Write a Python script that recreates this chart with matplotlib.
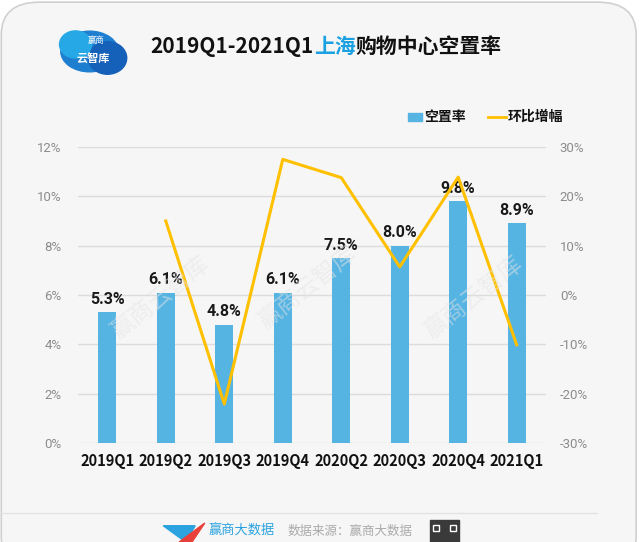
import matplotlib
matplotlib.use("Agg")
import matplotlib.pyplot as plt
from matplotlib.patches import FancyBboxPatch, Rectangle, Polygon, Ellipse
from matplotlib.ticker import FuncFormatter

plt.rcParams['font.family'] = ['Noto Sans CJK SC', 'DejaVu Sans']

quarters = ["2019Q1", "2019Q2", "2019Q3", "2019Q4", "2020Q2", "2020Q3", "2020Q4", "2021Q1"]
vacancy = [5.3, 6.1, 4.8, 6.1, 7.5, 8.0, 9.8, 8.9]          # %
qoq_change = [None, 15.0, -22.1, 27.5, 23.8, 5.7, 23.9, -10.1]  # %
left_ticks = [0, 2, 4, 6, 8, 10, 12]
right_ticks = [-30, -20, -10, 0, 10, 20, 30]

bar_color = "#56B4E3"
line_color = "#FFC000"
bg = "#F6F6F6"
num_font = ['Roboto', 'DejaVu Sans']

fig = plt.figure(figsize=(6.4, 5.42), dpi=100)
fig.patch.set_facecolor("white")
fig.patches.append(FancyBboxPatch((0.002, -0.05), 0.992, 1.046, boxstyle="round,pad=0,rounding_size=0.06",
                                  transform=fig.transFigure, facecolor=bg, edgecolor="#D0D0D0", lw=1.2,
                                  zorder=-10))

ax = fig.add_axes([0.122, 0.1827, 0.731, 0.546])
ax.set_facecolor(bg)
x = list(range(len(quarters)))
ax.bar(x, vacancy, width=0.31, color=bar_color, zorder=3)
ax.set_ylim(0, 12)
ax.set_xlim(-0.5, len(quarters) - 0.5)
ax.set_yticks(left_ticks)
ax.yaxis.set_major_formatter(FuncFormatter(lambda v, p: f"{v:.0f}%"))
ax.grid(axis="y", color="#DCDCDC", lw=1, zorder=0)
for s in ax.spines.values():
    s.set_visible(False)
ax.tick_params(axis="both", length=0)
ax.tick_params(axis="y", pad=12, colors="#8C8C8C", labelsize=9.5)
for t in ax.get_yticklabels():
    t.set_family(num_font)
ax.set_xticks(x)
ax.set_xticklabels(quarters, fontsize=10.5, fontweight="bold", color="#111111")
ax.tick_params(axis="x", pad=7)

for xi, v in zip(x, vacancy):
    ax.text(xi, v + 0.22, f"{v:.1f}%", ha="center", va="bottom", fontsize=11.5, fontweight="bold",
            family=num_font, color="#1A1A1A", zorder=5)

ax2 = ax.twinx()
ax2.set_ylim(-30, 30)
ax2.set_yticks(right_ticks)
ax2.yaxis.set_major_formatter(FuncFormatter(lambda v, p: f"{v:.0f}%"))
for s in ax2.spines.values():
    s.set_visible(False)
ax2.tick_params(axis="y", length=0, pad=10, colors="#8C8C8C", labelsize=9.5)
for t in ax2.get_yticklabels():
    t.set_family(num_font)
lx = [xi for xi, v in zip(x, qoq_change) if v is not None]
ly = [v for v in qoq_change if v is not None]
ax2.plot(lx, ly, color=line_color, lw=2.2, zorder=4)

# faint watermarks
for wx, wy in [(0.25, 0.45), (0.48, 0.47), (0.74, 0.45)]:
    fig.text(wx, wy, "赢商云智库", rotation=38, fontsize=17, color="#E4E4E4", ha="center", va="center",
             alpha=0.5, zorder=1)

# title, pieces placed side by side
renderer = fig.canvas.get_renderer()
tx = 0.235
for part, col in [("2019Q1-2021Q1", "#111111"), ("上海", "#1BA1E2"), ("购物中心空置率", "#111111")]:
    t = fig.text(tx, 0.915, part, fontsize=15, fontweight="bold", color=col, va="center")
    bb = t.get_window_extent(renderer=renderer)
    tx += bb.width / fig.bbox.width

# logo cloud
fig.patches.append(Ellipse((0.14, 0.905), 0.09, 0.075, transform=fig.transFigure, color="#1E7FD0"))
fig.patches.append(Ellipse((0.168, 0.893), 0.06, 0.06, transform=fig.transFigure, color="#1560B8"))
fig.patches.append(Ellipse((0.118, 0.918), 0.05, 0.05, transform=fig.transFigure, color="#27A8E6"))
fig.text(0.15, 0.925, "赢商", fontsize=6, color="white", ha="center", va="center", style="italic")
fig.text(0.145, 0.891, "云智库", fontsize=8, color="white", ha="center", va="center", fontweight="bold")

# legend
fig.patches.append(Rectangle((0.637, 0.776), 0.022, 0.016, transform=fig.transFigure, color=bar_color))
fig.text(0.663, 0.784, "空置率", fontsize=10, fontweight="bold", color="#111111", va="center")
fig.lines.append(plt.Line2D([0.762, 0.79], [0.784, 0.784], transform=fig.transFigure, color=line_color, lw=2))
fig.text(0.794, 0.784, "环比增幅", fontsize=10, fontweight="bold", color="#111111", va="center")

# footer
fig.lines.append(plt.Line2D([0.0, 0.933], [0.054, 0.054], transform=fig.transFigure, color="#E2E2E2", lw=1))
fig.patches.append(Polygon([[0.255, 0.03], [0.29, 0.0], [0.305, 0.03]], closed=True,
                           transform=fig.transFigure, color="#2AA3E0"))
fig.patches.append(Polygon([[0.28, 0.0], [0.32, 0.035], [0.3, 0.0]], closed=True,
                           transform=fig.transFigure, color="#E8403A"))
fig.text(0.325, 0.02, "赢商大数据", fontsize=9.5, color="#2AA3E0", va="center")
fig.text(0.45, 0.02, "数据来源：赢商大数据", fontsize=9, color="#AAAAAA", va="center")
fig.patches.append(Rectangle((0.672, -0.01), 0.045, 0.05, transform=fig.transFigure, color="#3A3A3A"))
for qx, qy in [(0.676, 0.02), (0.703, 0.02)]:
    fig.patches.append(Rectangle((qx, qy), 0.01, 0.012, transform=fig.transFigure,
                                 facecolor="#3A3A3A", edgecolor="white", lw=1))

fig.savefig("out.png", dpi=100, facecolor=fig.get_facecolor())
